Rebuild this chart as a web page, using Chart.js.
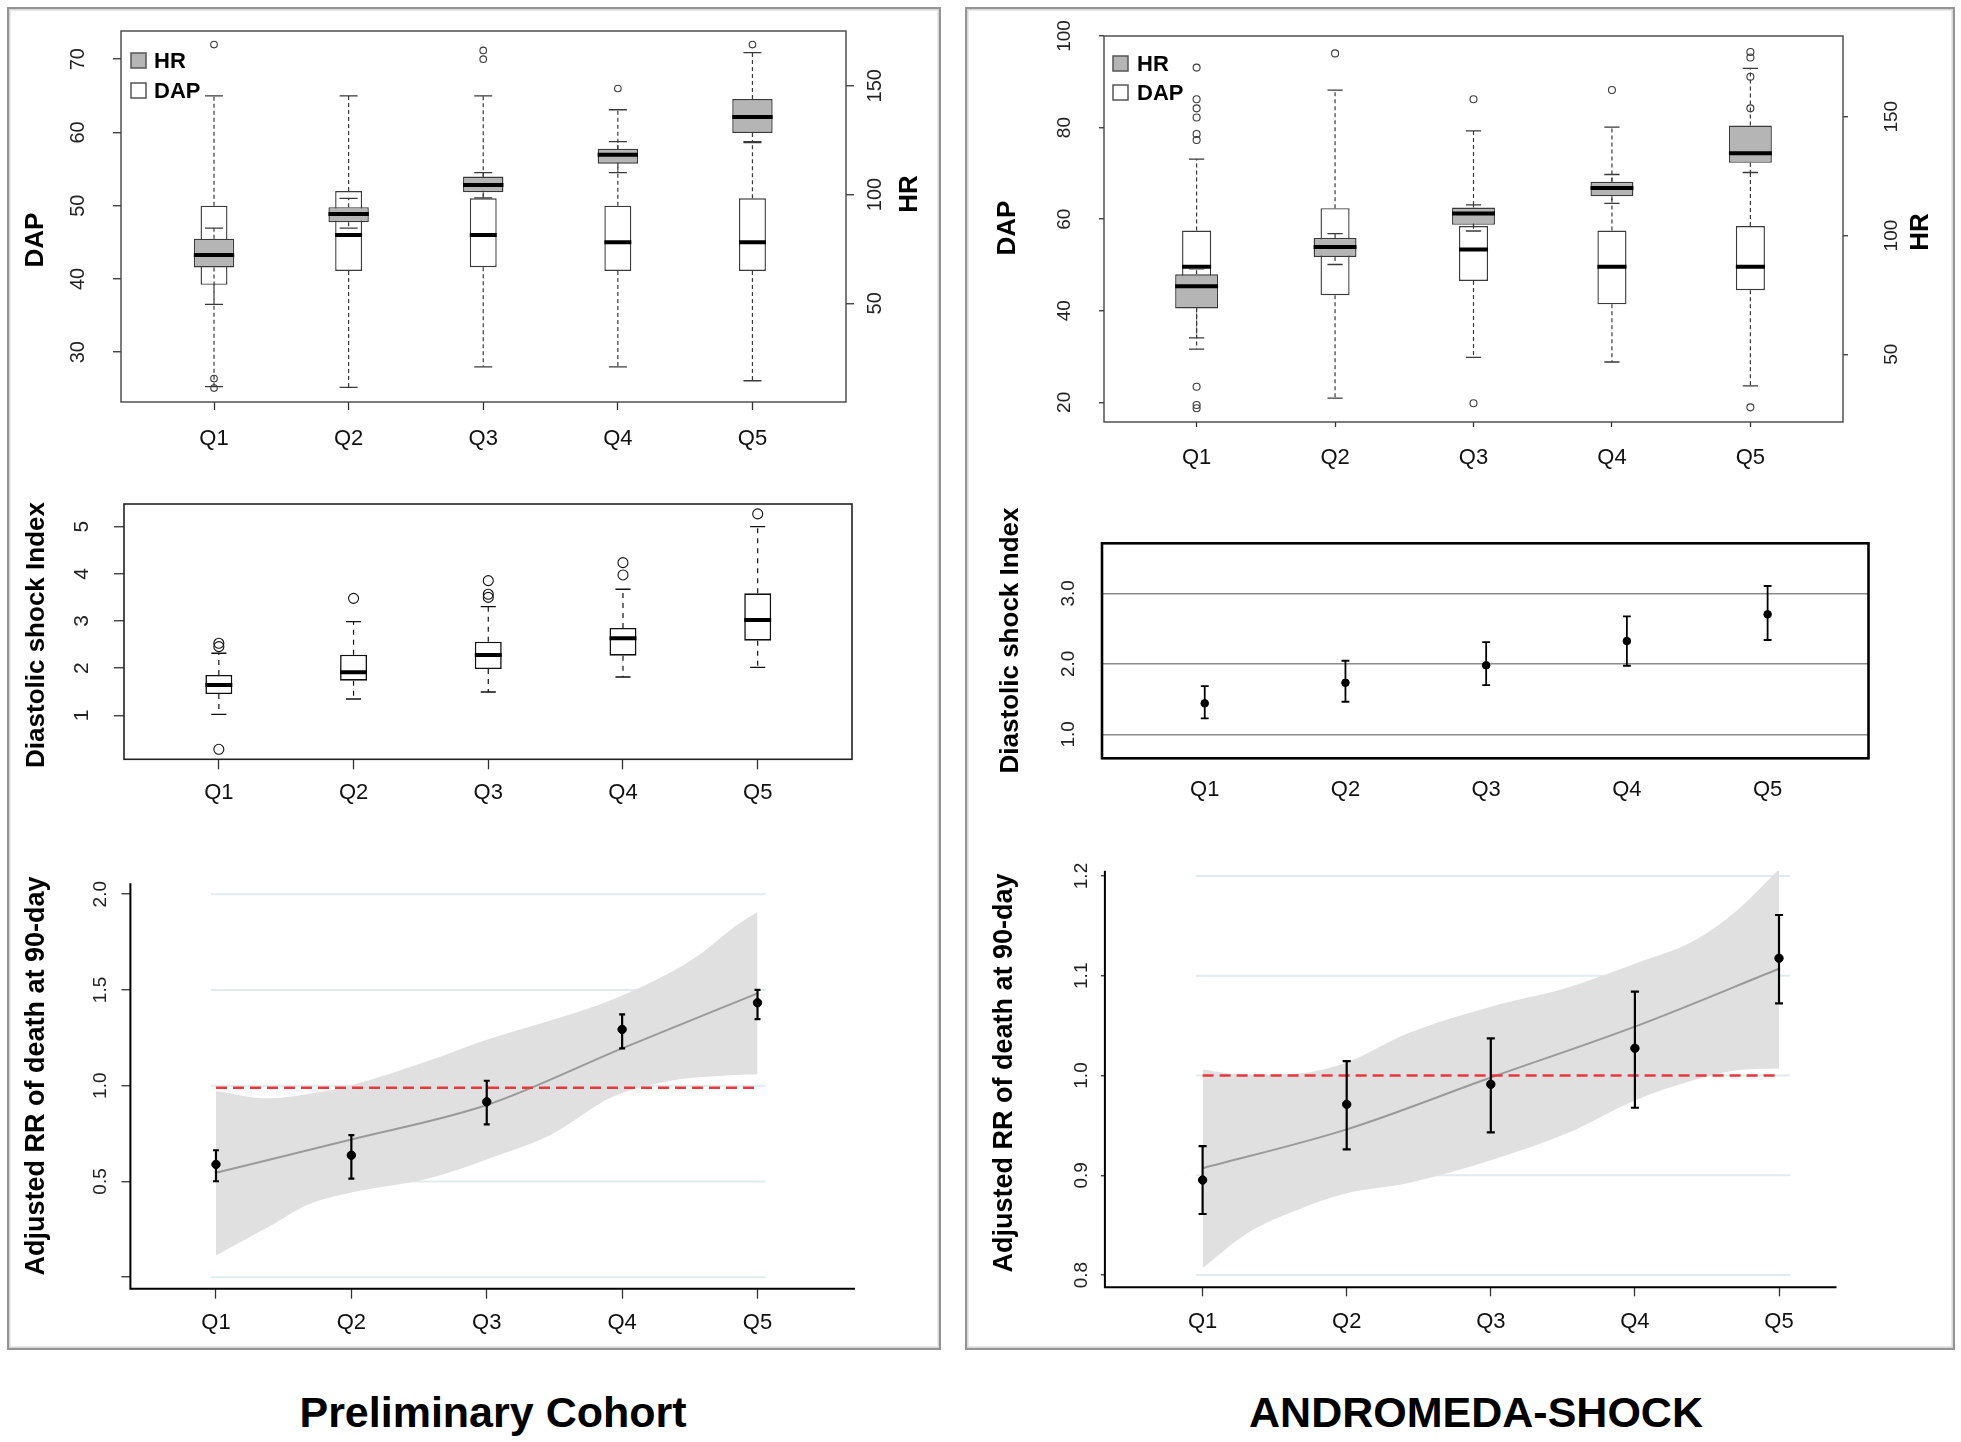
<!DOCTYPE html>
<html lang="en">
<head>
<meta charset="UTF-8">
<title>DAP, HR, diastolic shock index and adjusted RR by quintile</title>
<script src="https://cdn.jsdelivr.net/npm/chart.js"></script>
<style>
  body { margin: 0; background: #fff; }
  #page { position: relative; width: 1961px; height: 1442px; background: #fff; font-family: "Liberation Sans", Arial, Helvetica, sans-serif; }
  .panel { position: absolute; box-sizing: border-box; border: 2px solid #959595; box-shadow: inset 0 0 0 1.5px #d6d6d6; }
  canvas { position: absolute; }
  .caption { position: absolute; top: 1387px; width: 800px; line-height: 50px; font-size: 43px; font-weight: bold; text-align: center; color: #000; }
</style>
</head>
<body>
<div id="page">
  <div class="panel" style="left:7px; top:7px; width:934px; height:1343px;"></div>
  <div class="panel" style="left:965px; top:7px; width:990px; height:1343px;"></div>

  <canvas id="prelimDap" width="920" height="452" style="left:12px; top:12px;"></canvas>
  <canvas id="andromedaDap" width="975" height="470" style="left:970px; top:12px;"></canvas>
  <canvas id="prelimDsi" width="920" height="340" style="left:12px; top:480px;"></canvas>
  <canvas id="andromedaDsi" width="975" height="320" style="left:970px; top:500px;"></canvas>
  <canvas id="prelimRr" width="920" height="490" style="left:12px; top:850px;"></canvas>
  <canvas id="andromedaRr" width="975" height="490" style="left:970px; top:850px;"></canvas>

  <div class="caption" style="left:93px;">Preliminary Cohort</div>
  <div class="caption" style="left:1076px;">ANDROMEDA-SHOCK</div>
</div>

<script>
const FONT = '"Liberation Sans", Arial, Helvetica, sans-serif';
const quintiles = ['Q1', 'Q2', 'Q3', 'Q4', 'Q5'];

// preliminary cohort, DAP (left axis) and HR (right axis)
const prelimDapLow = [25.3, 25.2, 28.0, 28.0, 26.1];
const prelimDapQ1 = [39.2, 41.1, 41.6, 41.1, 41.1];
const prelimDapMedian = [43.5, 46.0, 46.0, 45.0, 45.0];
const prelimDapQ3 = [50.0, 52.0, 51.0, 50.0, 51.0];
const prelimDapHigh = [65.0, 65.0, 65.0, 63.1, 58.6];
const prelimDapOutliers = [[72.0, 26.4, 25.1], [], [71.2, 70.0], [66.0], [72.0]];
const prelimHrLow = [49.5, 84.6, 98.5, 110.1, 124.3];
const prelimHrQ1 = [66.5, 87.3, 101.1, 114.2, 128.3];
const prelimHrMedian = [72.2, 91.1, 104.4, 118.3, 135.6];
const prelimHrQ3 = [79.7, 94.2, 108.3, 121.0, 143.9];
const prelimHrHigh = [84.6, 98.2, 110.1, 124.3, 165.3];
const prelimDapTicks = [30, 40, 50, 60, 70];
const prelimHrTicks = [50, 100, 150];

// ANDROMEDA-SHOCK, DAP (left axis) and HR (right axis)
const andDapLow = [31.6, 20.9, 29.8, 28.8, 23.6];
const andDapQ1 = [44.0, 43.4, 46.5, 41.4, 44.5];
const andDapMedian = [49.6, 53.0, 53.4, 49.6, 49.6];
const andDapQ3 = [57.5, 62.4, 58.5, 57.5, 58.5];
const andDapHigh = [73.1, 88.2, 79.3, 80.1, 70.2];
const andDapOutliers = [[93.1, 86.2, 84.2, 82.2, 78.6, 77.3, 23.4, 19.4, 18.7], [96.2], [86.2, 19.8], [88.2], [96.5, 95.3, 91.1, 84.2, 18.9]];
const andHrLow = [56.9, 87.8, 101.9, 113.5, 126.5];
const andHrQ1 = [69.3, 91.0, 104.5, 116.5, 130.6];
const andHrMedian = [78.7, 95.2, 109.3, 120.0, 134.6];
const andHrQ3 = [83.7, 99.0, 111.8, 122.6, 146.3];
const andHrHigh = [86.0, 100.8, 112.9, 125.7, 170.4];
const andDapTicks = [20, 40, 60, 80, 100];
const andHrTicks = [50, 100, 150];

// preliminary cohort, diastolic shock index
const prelimDsiLow = [1.02, 1.346, 1.494, 1.812, 2.018];
const prelimDsiQ1 = [1.452, 1.734, 1.982, 2.264, 2.582];
const prelimDsiMedian = [1.643, 1.911, 2.279, 2.633, 3.021];
const prelimDsiQ3 = [1.855, 2.286, 2.561, 2.852, 3.587];
const prelimDsiHigh = [2.315, 2.985, 3.303, 3.672, 5.0];
const prelimDsiOutliers = [[2.527, 2.455, 0.279], [3.48], [3.855, 3.566, 3.5], [4.237, 3.976], [5.27]];
const prelimDsiTicks = [1, 2, 3, 4, 5];

// ANDROMEDA-SHOCK, diastolic shock index mean and CI
const andDsiMean = [1.44, 1.732, 1.979, 2.323, 2.702];
const andDsiLow = [1.227, 1.462, 1.699, 1.973, 2.338];
const andDsiHigh = [1.685, 2.044, 2.309, 2.674, 3.104];
const andDsiTicks = [1, 2, 3];
const andDsiTickLabels = ['1.0', '2.0', '3.0'];

// preliminary cohort, adjusted RR of death at 90 days
const prelimRr = [0.589, 0.637, 0.916, 1.294, 1.433];
const prelimRrLow = [0.501, 0.515, 0.798, 1.195, 1.348];
const prelimRrHigh = [0.663, 0.742, 1.026, 1.373, 1.5];
const prelimRrFit = [0.545, 0.719, 0.899, 1.195, 1.482];
const prelimBandX = [1, 1.39, 1.67, 2, 2.57, 3, 3.47, 3.93, 4.38, 4.6, 4.83, 5];
const prelimBandUpper = [0.973, 0.934, 0.955, 1.003, 1.13, 1.24, 1.34, 1.45, 1.6, 1.7, 1.83, 1.909];
const prelimBandLower = [0.114, 0.263, 0.376, 0.442, 0.515, 0.615, 0.742, 0.942, 1.029, 1.045, 1.056, 1.06];
const prelimRrRef = 0.99;
const prelimRrTicks = [0, 0.5, 1, 1.5, 2];
const prelimRrTickLabels = ['', '0.5', '1.0', '1.5', '2.0'];

// ANDROMEDA-SHOCK, adjusted RR of death at 90 days
const andRr = [0.8952, 0.9711, 0.9912, 1.0273, 1.1175];
const andRrLow = [0.8612, 0.926, 0.943, 0.9677, 1.0724];
const andRrHigh = [0.9293, 1.0145, 1.0373, 1.084, 1.1609];
const andRrFit = [0.907, 0.946, 0.998, 1.049, 1.107];
const andBandX = [1, 1.31, 1.67, 2, 2.42, 3, 3.53, 4, 4.41, 4.72, 5];
const andBandUpper = [1.006, 1.0005, 1.002, 1.013, 1.042, 1.069, 1.088, 1.112, 1.135, 1.167, 1.2067];
const andBandLower = [0.807, 0.842, 0.866, 0.882, 0.892, 0.915, 0.942, 0.975, 0.9955, 1.0055, 1.007];
const andRrRef = 1.0;
const andRrTicks = [0.8, 0.9, 1.0, 1.1, 1.2];
const andRrTickLabels = ['0.8', '0.9', '1.0', '1.1', '1.2'];

const HR_FILL = '#b5b5b5';
const GAP = (x) => ({ x, y: null });

// frame, rotated titles and the little in-plot legend
const decor = {
  id: 'decor',
  afterDraw(chart, args, o) {
    const ctx = chart.ctx, a = chart.chartArea;
    ctx.save();
    if (o.frame) {
      ctx.strokeStyle = o.frame.color;
      ctx.lineWidth = o.frame.width;
      if (o.frame.sides === 'all') {
        ctx.strokeRect(a.left, a.top, a.right - a.left, a.bottom - a.top);
      } else {
        ctx.beginPath();
        ctx.moveTo(a.left, a.top);
        ctx.lineTo(a.left, a.bottom);
        ctx.lineTo(a.right, a.bottom);
        ctx.stroke();
      }
    }
    (o.texts || []).forEach(t => {
      ctx.save();
      ctx.translate(t.x, t.y);
      ctx.rotate(-Math.PI / 2);
      ctx.font = 'bold ' + t.size + 'px ' + FONT;
      ctx.fillStyle = '#000';
      ctx.textAlign = 'center';
      ctx.textBaseline = 'middle';
      ctx.fillText(t.text, 0, 0);
      ctx.restore();
    });
    if (o.legend) {
      const L = o.legend;
      L.items.forEach((it, k) => {
        const y = L.y + k * L.pitch;
        ctx.fillStyle = it.fill;
        ctx.fillRect(L.x, y, L.box, L.box);
        ctx.strokeStyle = '#555';
        ctx.lineWidth = 1.5;
        ctx.strokeRect(L.x, y, L.box, L.box);
        ctx.fillStyle = '#000';
        ctx.font = 'bold ' + L.size + 'px ' + FONT;
        ctx.textAlign = 'left';
        ctx.textBaseline = 'middle';
        ctx.fillText(it.label, L.x + L.box + L.gap, y + L.box / 2 + 1);
      });
    }
    ctx.restore();
  }
};

// R-style box plot built from five arrays and an outlier list
function boxSets(name, low, q1, med, q3, high, outliers, s) {
  const whisk = [], caps = [], meds = [], pts = [];
  quintiles.forEach((_, i) => {
    const x = i + 1;
    whisk.push({ x, y: q3[i] }, { x, y: high[i] }, GAP(x), { x, y: q1[i] }, { x, y: low[i] }, GAP(x));
    caps.push({ x: x - s.cap, y: high[i] }, { x: x + s.cap, y: high[i] }, GAP(x),
              { x: x - s.cap, y: low[i] }, { x: x + s.cap, y: low[i] }, GAP(x));
    meds.push({ x: x - s.width / 2, y: med[i] }, { x: x + s.width / 2, y: med[i] }, GAP(x));
    (outliers[i] || []).forEach(v => pts.push({ x, y: v }));
  });
  const line = { type: 'line', yAxisID: s.axis, pointRadius: 0, borderColor: s.edge };
  return [
    { ...line, label: name + ' whiskers', data: whisk, borderWidth: 1.2, borderDash: s.dash, order: s.order + 4 },
    { ...line, label: name + ' caps', data: caps, borderWidth: 1.3, order: s.order + 3 },
    { type: 'bar', label: name, yAxisID: s.axis, data: q1.map((v, i) => ({ x: i + 1, y: [v, q3[i]] })),
      backgroundColor: s.fill, borderColor: s.edge, borderWidth: s.boxLine, borderSkipped: false,
      grouped: false, categoryPercentage: 1, barPercentage: s.width, order: s.order + 2 },
    { ...line, label: name + ' median', data: meds, borderColor: '#000', borderWidth: 4, order: s.order + 1 },
    { type: 'line', label: name + ' outliers', yAxisID: s.axis, data: pts, showLine: false,
      pointRadius: s.radius, pointBorderWidth: 1.1, pointBorderColor: s.edge,
      pointBackgroundColor: 'rgba(0,0,0,0)', order: s.order }
  ];
}

// mean with error bar
function errorSets(mean, low, high, s) {
  const bars = [], caps = [];
  mean.forEach((m, i) => {
    const x = i + 1;
    bars.push({ x, y: low[i] }, { x, y: high[i] }, GAP(x));
    caps.push({ x: x - s.cap, y: high[i] }, { x: x + s.cap, y: high[i] }, GAP(x),
              { x: x - s.cap, y: low[i] }, { x: x + s.cap, y: low[i] }, GAP(x));
  });
  return [
    { type: 'line', label: 'CI', data: bars, borderColor: '#000', borderWidth: s.lw, pointRadius: 0, order: 3 },
    { type: 'line', label: 'CI caps', data: caps, borderColor: '#000', borderWidth: s.lw, pointRadius: 0, order: 2 },
    { type: 'line', label: 'estimate', data: mean.map((v, i) => ({ x: i + 1, y: v })), showLine: false,
      pointRadius: s.r, pointBackgroundColor: '#000', pointBorderColor: '#000', order: 1 }
  ];
}

// spline fit, confidence band, reference line and light level lines
function rrSets(fit, bandX, upper, lower, ref, levels, gridSpan) {
  const grid = [];
  levels.forEach(v => grid.push({ x: gridSpan[0], y: v }, { x: gridSpan[1], y: v }, GAP(gridSpan[1])));
  return [
    { type: 'line', label: 'levels', data: grid, borderColor: '#e1ebee', borderWidth: 2, pointRadius: 0, order: 40 },
    { type: 'line', label: 'band', data: bandX.map((x, i) => ({ x, y: upper[i] })), fill: '+1',
      backgroundColor: '#e0e0e0', borderWidth: 0, pointRadius: 0, cubicInterpolationMode: 'monotone', order: 31 },
    { type: 'line', label: 'band low', data: bandX.map((x, i) => ({ x, y: lower[i] })),
      borderWidth: 0, pointRadius: 0, cubicInterpolationMode: 'monotone', order: 30 },
    { type: 'line', label: 'fit', data: fit.map((v, i) => ({ x: i + 1, y: v })), borderColor: '#9a9a9a',
      borderWidth: 2, pointRadius: 0, cubicInterpolationMode: 'monotone', order: 20 },
    { type: 'line', label: 'RR = 1', data: [{ x: 1, y: ref }, { x: quintiles.length, y: ref }],
      borderColor: '#e8373d', borderWidth: 2.5, borderDash: [11, 6], pointRadius: 0, order: 10 }
  ];
}

function xAxis(s) {
  return {
    type: 'linear', position: 'bottom', min: s.min, max: s.max, offset: false,
    afterBuildTicks: sc => { sc.ticks = quintiles.map((_, i) => ({ value: i + 1 })); },
    afterFit: sc => { sc.height = s.height; sc.paddingLeft = 0; sc.paddingRight = 0; },
    ticks: { autoSkip: false, maxRotation: 0, minRotation: 0, padding: s.pad, color: '#111',
      font: { family: FONT, size: 22 }, callback: v => quintiles[v - 1] },
    grid: { display: true, offset: false, drawOnChartArea: false, drawTicks: s.tick > 0,
      tickLength: s.tick, tickColor: '#333', tickWidth: 1.3 },
    border: { display: false }
  };
}

function yAxis(s) {
  return {
    type: 'linear', position: s.position || 'left', min: s.min, max: s.max,
    afterBuildTicks: sc => { sc.ticks = s.ticks.map(v => ({ value: v })); },
    afterFit: sc => { sc.width = s.width; sc.paddingTop = 0; sc.paddingBottom = 0; },
    ticks: { autoSkip: false, minRotation: 90, maxRotation: 90, crossAlign: 'center', padding: s.pad,
      color: '#222', font: { family: FONT, size: s.size },
      callback: (v, i) => s.labels ? s.labels[i] : String(v) },
    grid: { display: true, drawOnChartArea: !!s.grid, color: s.grid || 'rgba(0,0,0,0)', lineWidth: 1.5,
      drawTicks: s.tick > 0, tickLength: s.tick, tickColor: '#333', tickWidth: 1.3 },
    border: { display: false }
  };
}

function makeChart(id, type, datasets, o) {
  return new Chart(document.getElementById(id), {
    type,
    data: { datasets },
    options: {
      responsive: false, animation: false, devicePixelRatio: 1, events: [],
      layout: { padding: { top: o.top, right: o.right || 0, left: 0, bottom: 0 } },
      plugins: { legend: { display: false }, tooltip: { enabled: false }, decor: o.decor },
      scales: o.scales
    },
    plugins: [decor]
  });
}

const legendItems = [{ label: 'HR', fill: HR_FILL }, { label: 'DAP', fill: '#ffffff' }];

// top left
makeChart('prelimDap', 'bar', [
  ...boxSets('HR', prelimHrLow, prelimHrQ1, prelimHrMedian, prelimHrQ3, prelimHrHigh, [],
    { axis: 'yHr', width: 0.3, cap: 0.067, fill: HR_FILL, edge: '#3a3a3a', dash: [4, 3], boxLine: 1.4, radius: 3.3, order: 10 }),
  ...boxSets('DAP', prelimDapLow, prelimDapQ1, prelimDapMedian, prelimDapQ3, prelimDapHigh, prelimDapOutliers,
    { axis: 'y', width: 0.2, cap: 0.067, fill: '#ffffff', edge: '#3a3a3a', dash: [4, 3], boxLine: 1.4, radius: 3.3, order: 20 })
], {
  top: 19,
  scales: {
    x: xAxis({ min: 0.309, max: 5.695, height: 62, tick: 8, pad: 15.8 }),
    y: yAxis({ min: 23.2, max: 73.85, ticks: prelimDapTicks, width: 109, tick: 8, pad: 23.6, size: 20 }),
    yHr: yAxis({ position: 'right', min: 4.6, max: 175.2, ticks: prelimHrTicks, width: 86, tick: 8, pad: 4.3, size: 20 })
  },
  decor: {
    frame: { color: '#444', width: 1.4, sides: 'all' },
    texts: [{ text: 'DAP', x: 23.5, y: 228, size: 26 }, { text: 'HR', x: 898, y: 182, size: 26 }],
    legend: { x: 119, y: 41, box: 15, pitch: 30, gap: 8, size: 22, items: legendItems }
  }
});

// top right
makeChart('andromedaDap', 'bar', [
  ...boxSets('HR', andHrLow, andHrQ1, andHrMedian, andHrQ3, andHrHigh, [],
    { axis: 'yHr', width: 0.31, cap: 0.055, fill: HR_FILL, edge: '#3a3a3a', dash: [4, 3], boxLine: 1.4, radius: 3.5, order: 10 }),
  ...boxSets('DAP', andDapLow, andDapQ1, andDapMedian, andDapQ3, andDapHigh, andDapOutliers,
    { axis: 'y', width: 0.21, cap: 0.055, fill: '#ffffff', edge: '#3a3a3a', dash: [4, 3], boxLine: 1.4, radius: 3.5, order: 20 })
], {
  top: 24,
  scales: {
    x: xAxis({ min: 0.331, max: 5.669, height: 60, tick: 5, pad: 17.8 }),
    y: yAxis({ min: 15.7, max: 100, ticks: andDapTicks, width: 134, tick: 5, pad: 18.2, size: 19 }),
    yHr: yAxis({ position: 'right', min: 21.5, max: 184, ticks: andHrTicks, width: 102, tick: 5, pad: 28.2, size: 19 })
  },
  decor: {
    frame: { color: '#444', width: 1.4, sides: 'all' },
    texts: [{ text: 'DAP', x: 38, y: 216, size: 26 }, { text: 'HR', x: 951, y: 220, size: 26 }],
    legend: { x: 143, y: 44, box: 15, pitch: 29, gap: 9, size: 22, items: legendItems }
  }
});

// middle left
makeChart('prelimDsi', 'bar',
  boxSets('DSI', prelimDsiLow, prelimDsiQ1, prelimDsiMedian, prelimDsiQ3, prelimDsiHigh, prelimDsiOutliers,
    { axis: 'y', width: 0.2, cap: 0.056, fill: '#ffffff', edge: '#111', dash: [5, 5], boxLine: 1.6, radius: 5, order: 10 }), {
  top: 24, right: 80,
  scales: {
    x: xAxis({ min: 0.296, max: 5.70, height: 60.7, tick: 10, pad: 10.5 }),
    y: yAxis({ min: 0.067, max: 5.48, ticks: prelimDsiTicks, width: 112, tick: 10, pad: 25.5, size: 21 })
  },
  decor: {
    frame: { color: '#222', width: 1.6, sides: 'all' },
    texts: [{ text: 'Diastolic shock Index', x: 24.7, y: 155, size: 26 }]
  }
});

// middle right
makeChart('andromedaDsi', 'line',
  errorSets(andDsiMean, andDsiLow, andDsiHigh, { cap: 0.028, lw: 1.8, r: 3.8 }), {
  top: 43.3, right: 76.5,
  scales: {
    x: xAxis({ min: 0.27, max: 5.717, height: 61.7, tick: 0, pad: 18.5 }),
    y: yAxis({ min: 0.66, max: 3.71, ticks: andDsiTicks, labels: andDsiTickLabels, width: 132, tick: 0, pad: 20.3, size: 19, grid: '#8c8c8c' })
  },
  decor: {
    frame: { color: '#000', width: 2.6, sides: 'all' },
    texts: [{ text: 'Diastolic shock Index', x: 41, y: 140.5, size: 26 }]
  }
});

// bottom left
makeChart('prelimRr', 'line', [
  ...rrSets(prelimRrFit, prelimBandX, prelimBandUpper, prelimBandLower, prelimRrRef, prelimRrTicks, [0.963, 5.06]),
  ...errorSets(prelimRr, prelimRrLow, prelimRrHigh, { cap: 0.022, lw: 2.2, r: 4.2 })
], {
  top: 33.3, right: 77,
  scales: {
    x: xAxis({ min: 0.368, max: 5.72, height: 51.3, tick: 10, pad: 11.4 }),
    y: yAxis({ min: -0.06, max: 2.057, ticks: prelimRrTicks, labels: prelimRrTickLabels, width: 118.4, tick: 9, pad: 7.2, size: 19 })
  },
  decor: {
    frame: { color: '#000', width: 2, sides: 'bl' },
    texts: [{ text: 'Adjusted RR of death at 90-day', x: 24.7, y: 226, size: 27 }]
  }
});

// bottom right
makeChart('andromedaRr', 'line', [
  ...rrSets(andRrFit, andBandX, andBandUpper, andBandLower, andRrRef, andRrTicks, [0.954, 5.076]),
  ...errorSets(andRr, andRrLow, andRrHigh, { cap: 0.028, lw: 2.2, r: 4.2 })
], {
  top: 20.7, right: 108.5,
  scales: {
    x: xAxis({ min: 0.322, max: 5.399, height: 52.7, tick: 9, pad: 12.2 }),
    y: yAxis({ min: 0.7877, max: 1.2053, ticks: andRrTicks, labels: andRrTickLabels, width: 134.9, tick: 4, pad: 6.4, size: 19 })
  },
  decor: {
    frame: { color: '#000', width: 2, sides: 'bl' },
    texts: [{ text: 'Adjusted RR of death at 90-day', x: 34.7, y: 223, size: 27 }]
  }
});
</script>
</body>
</html>
